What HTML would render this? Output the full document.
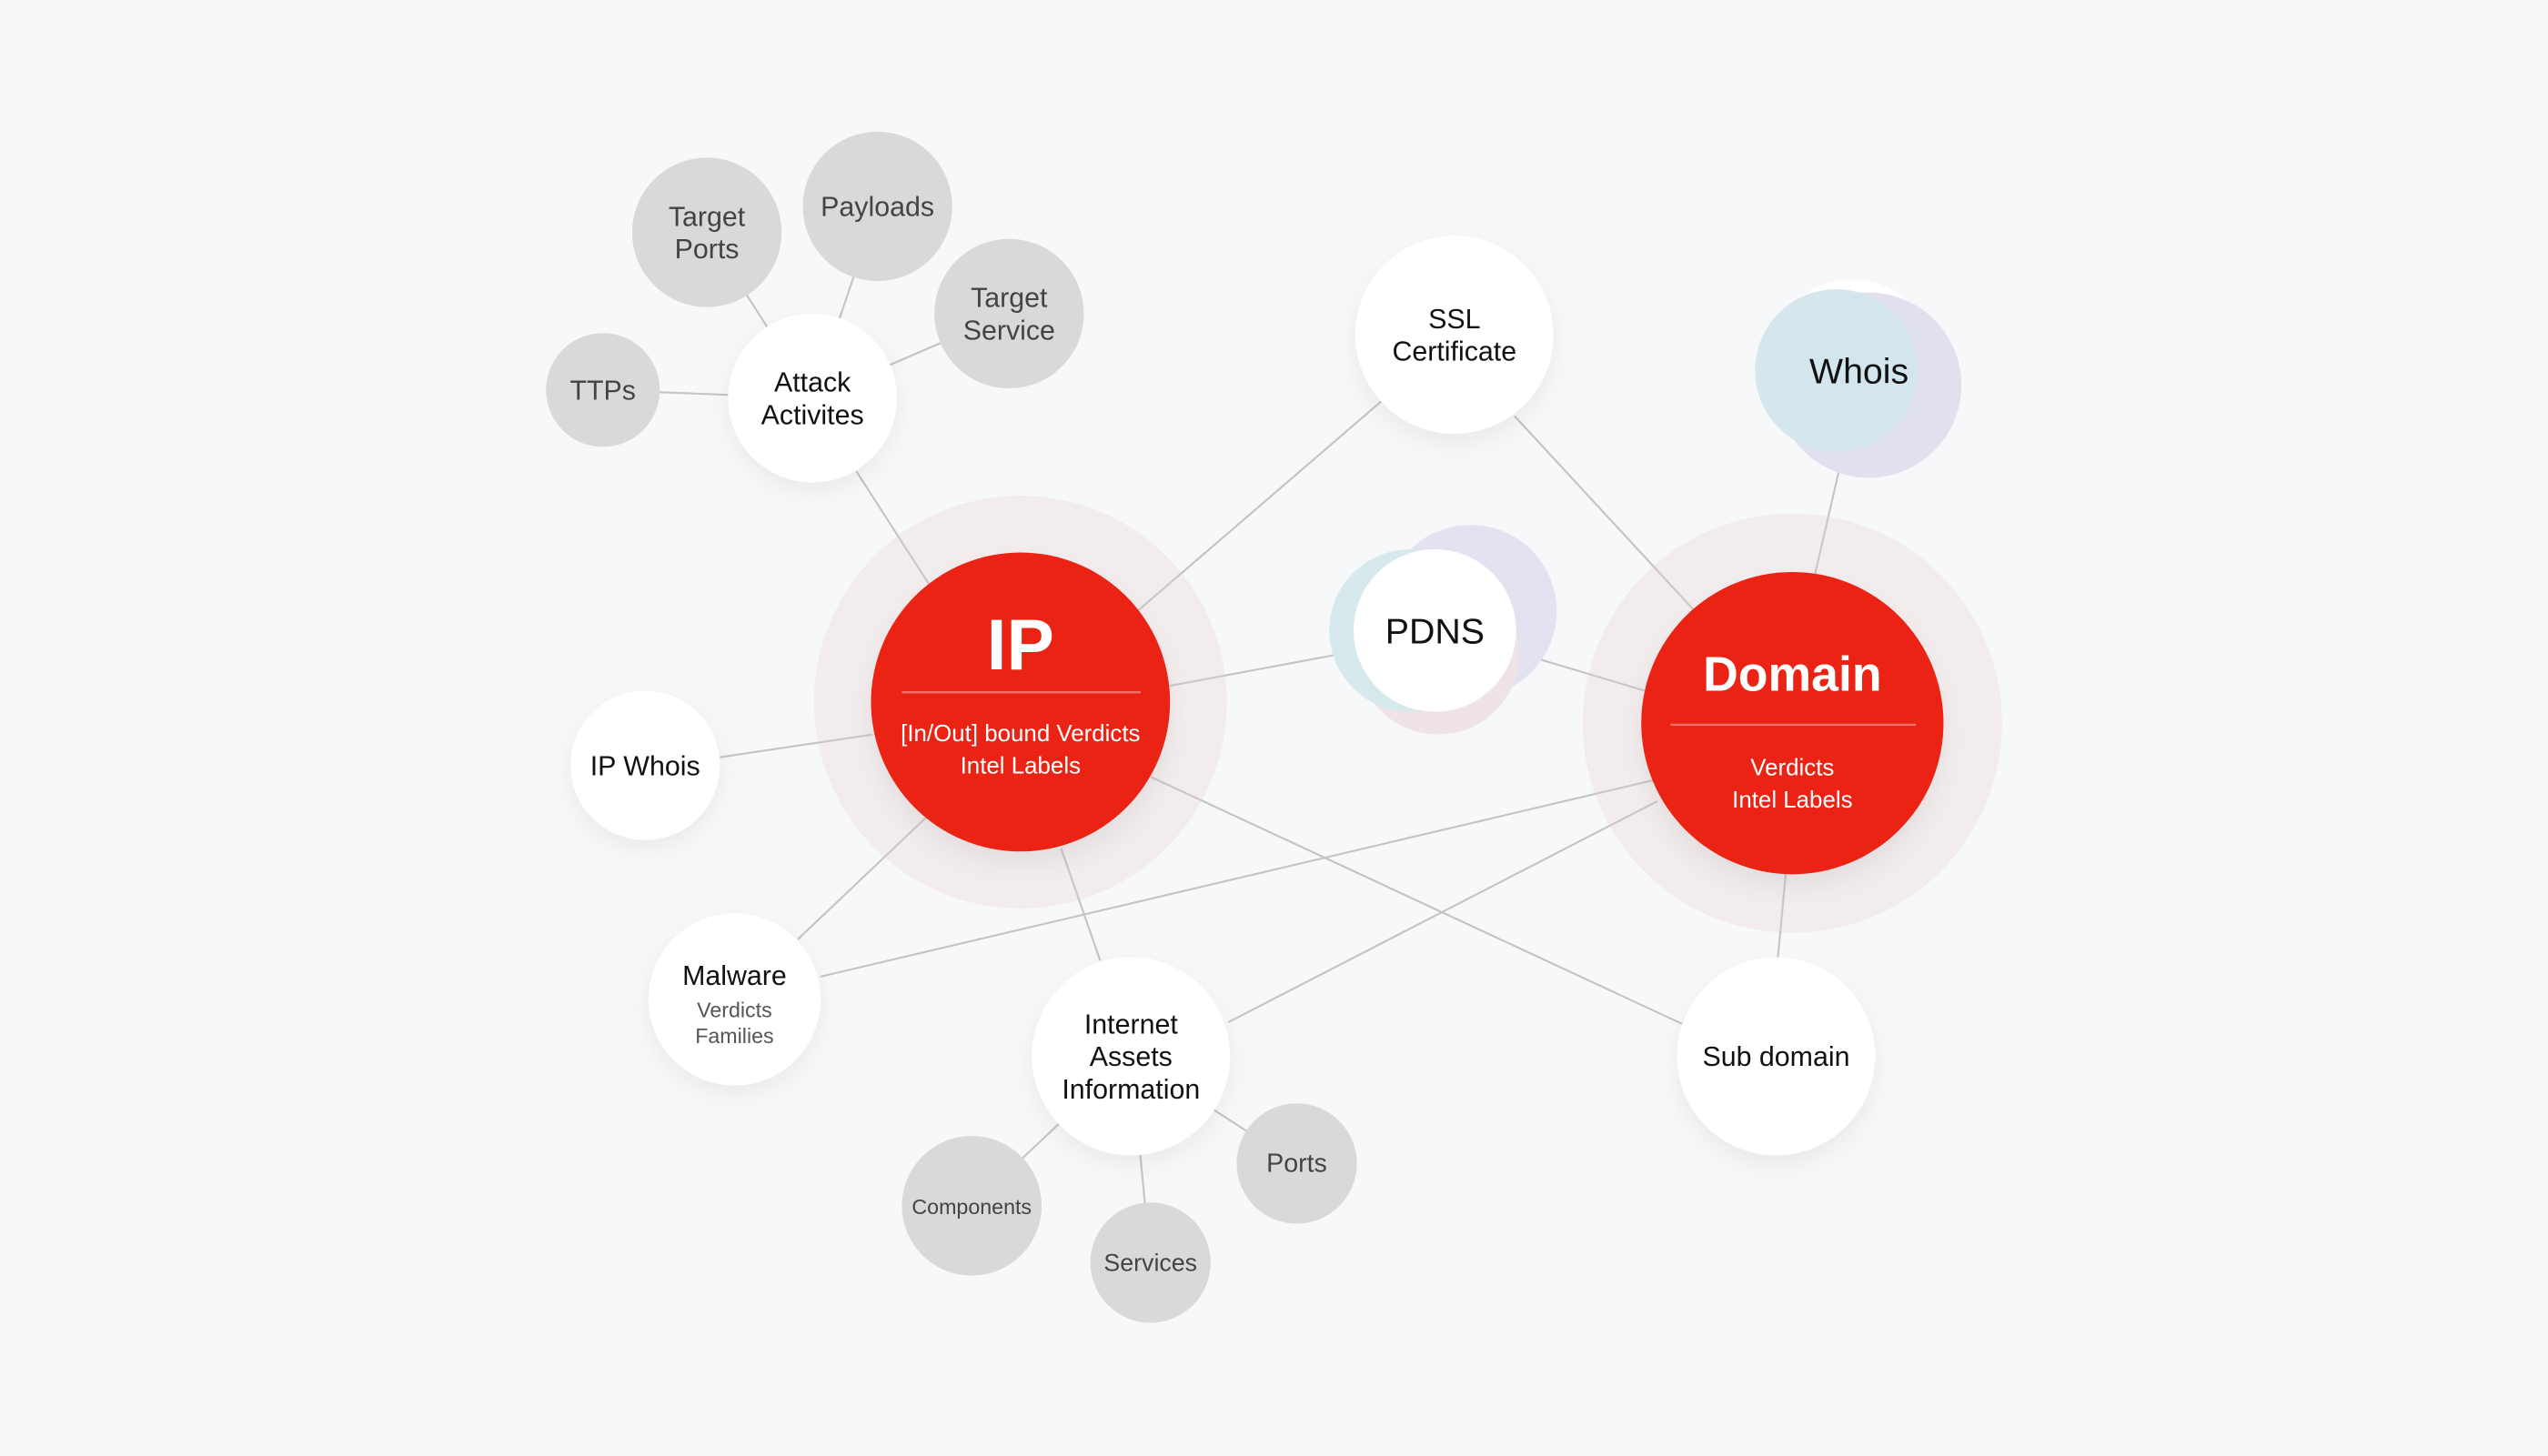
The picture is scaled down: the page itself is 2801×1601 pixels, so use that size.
<!DOCTYPE html>
<html><head><meta charset="utf-8"><style>
html,body{margin:0;padding:0;background:#f7f8fa;}
svg{display:block;}
text{font-family:"Liberation Sans",sans-serif;text-anchor:middle;}
</style></head><body>
<svg width="2801" height="1601" viewBox="0 0 1568 896" preserveAspectRatio="none" xmlns="http://www.w3.org/2000/svg">
<defs>
<filter id="sh" x="-50%" y="-50%" width="200%" height="200%"><feGaussianBlur stdDeviation="8"/></filter>
</defs>
<rect width="1568" height="896" fill="#f7f8fa"/>
<g stroke="#c4c4c6" stroke-width="1.2" fill="none">
<line x1="527" y1="290" x2="572" y2="360"/>
<line x1="371" y1="240" x2="500" y2="245"/>
<line x1="435" y1="143" x2="500" y2="245"/>
<line x1="540" y1="127" x2="500" y2="245"/>
<line x1="621" y1="193" x2="500" y2="245"/>
<line x1="700" y1="376" x2="850" y2="247"/>
<line x1="932" y1="256" x2="1042" y2="375"/>
<line x1="1142" y1="245" x2="1117" y2="353"/>
<line x1="720" y1="422" x2="822" y2="403"/>
<line x1="945" y1="405" x2="1012" y2="425"/>
<line x1="443" y1="466" x2="537" y2="452"/>
<line x1="491" y1="578" x2="570" y2="503"/>
<line x1="505" y1="601" x2="1018" y2="480"/>
<line x1="653" y1="522" x2="677" y2="591"/>
<line x1="708" y1="478" x2="1035" y2="630"/>
<line x1="756" y1="629" x2="1020" y2="493"/>
<line x1="1099" y1="537" x2="1094" y2="590"/>
<line x1="696" y1="650" x2="598" y2="742"/>
<line x1="696" y1="650" x2="708" y2="777"/>
<line x1="696" y1="650" x2="798" y2="716"/>
</g>
<circle cx="628" cy="432" r="127" fill="#e8c8c8" opacity="0.25"/>
<circle cx="1103" cy="445" r="129" fill="#e8c8c8" opacity="0.25"/>
<g fill="#000" opacity="0.06" filter="url(#sh)">
<circle cx="500" cy="250" r="52"/><circle cx="397" cy="476" r="46"/><circle cx="452" cy="620" r="53"/>
<circle cx="696" cy="655" r="61"/><circle cx="1093" cy="656" r="61"/><circle cx="895" cy="212" r="61"/>
<circle cx="628" cy="440" r="92"/><circle cx="1103" cy="453" r="93"/>
</g>
<g fill="#d9d9d9">
<circle cx="435" cy="143" r="46"/><circle cx="540" cy="127" r="46"/><circle cx="621" cy="193" r="46"/>
<circle cx="371" cy="240" r="35"/><circle cx="598" cy="742" r="43"/><circle cx="708" cy="777" r="37"/><circle cx="798" cy="716" r="37"/>
</g>
<circle cx="905" cy="376" r="53" fill="#e2e2f0"/>
<circle cx="885" cy="402" r="50" fill="#efe3e6"/>
<circle cx="868" cy="388" r="50" fill="#d6eaee"/>
<circle cx="883" cy="388" r="50" fill="#fff"/>
<circle cx="1140" cy="222" r="50" fill="#fff"/>
<circle cx="1150" cy="237" r="57" fill="#e0e0ef"/>
<circle cx="1130" cy="228" r="50" fill="#d3e6ec" opacity="0.95"/>
<g fill="#fff">
<circle cx="500" cy="245" r="52"/><circle cx="397" cy="471" r="46"/><circle cx="452" cy="615" r="53"/>
<circle cx="696" cy="650" r="61"/><circle cx="1093" cy="650" r="61"/><circle cx="895" cy="206" r="61"/>
</g>
<circle cx="628" cy="432" r="92" fill="#ea2314"/>
<circle cx="1103" cy="445" r="93" fill="#ea2314"/>
<line x1="555" y1="426" x2="702" y2="426" stroke="#f27065" stroke-width="1.3"/>
<line x1="1028" y1="446" x2="1179" y2="446" stroke="#f27065" stroke-width="1.3"/>
<g fill="#fff">
<text x="628" y="412" font-size="44" font-weight="bold">IP</text>
<text x="628" y="456" font-size="14.5">[In/Out] bound Verdicts</text>
<text x="628" y="476" font-size="14.5">Intel Labels</text>
<text x="1103" y="425" font-size="30" font-weight="bold">Domain</text>
<text x="1103" y="477" font-size="14.5">Verdicts</text>
<text x="1103" y="497" font-size="14.5">Intel Labels</text>
</g>
<g fill="#111">
<text x="883" y="396" font-size="22">PDNS</text>
<text x="1144" y="236" font-size="22">Whois</text>
<text x="895" y="202" font-size="17">SSL</text>
<text x="895" y="222" font-size="17">Certificate</text>
<text x="500" y="241" font-size="17">Attack</text>
<text x="500" y="261" font-size="17">Activites</text>
<text x="397" y="477" font-size="17">IP Whois</text>
<text x="452" y="606" font-size="17">Malware</text>
<text x="696" y="636" font-size="17">Internet</text>
<text x="696" y="656" font-size="17">Assets</text>
<text x="696" y="676" font-size="17">Information</text>
<text x="1093" y="656" font-size="17">Sub domain</text>
</g>
<g fill="#555">
<text x="452" y="626" font-size="13">Verdicts</text>
<text x="452" y="642" font-size="13">Families</text>
</g>
<g fill="#444">
<text x="435" y="139" font-size="17">Target</text>
<text x="435" y="159" font-size="17">Ports</text>
<text x="540" y="133" font-size="17">Payloads</text>
<text x="621" y="189" font-size="17">Target</text>
<text x="621" y="209" font-size="17">Service</text>
<text x="371" y="246" font-size="17">TTPs</text>
<text x="598" y="747" font-size="13">Components</text>
<text x="708" y="782" font-size="15">Services</text>
<text x="798" y="721" font-size="16">Ports</text>
</g>
</svg>
</body></html>
